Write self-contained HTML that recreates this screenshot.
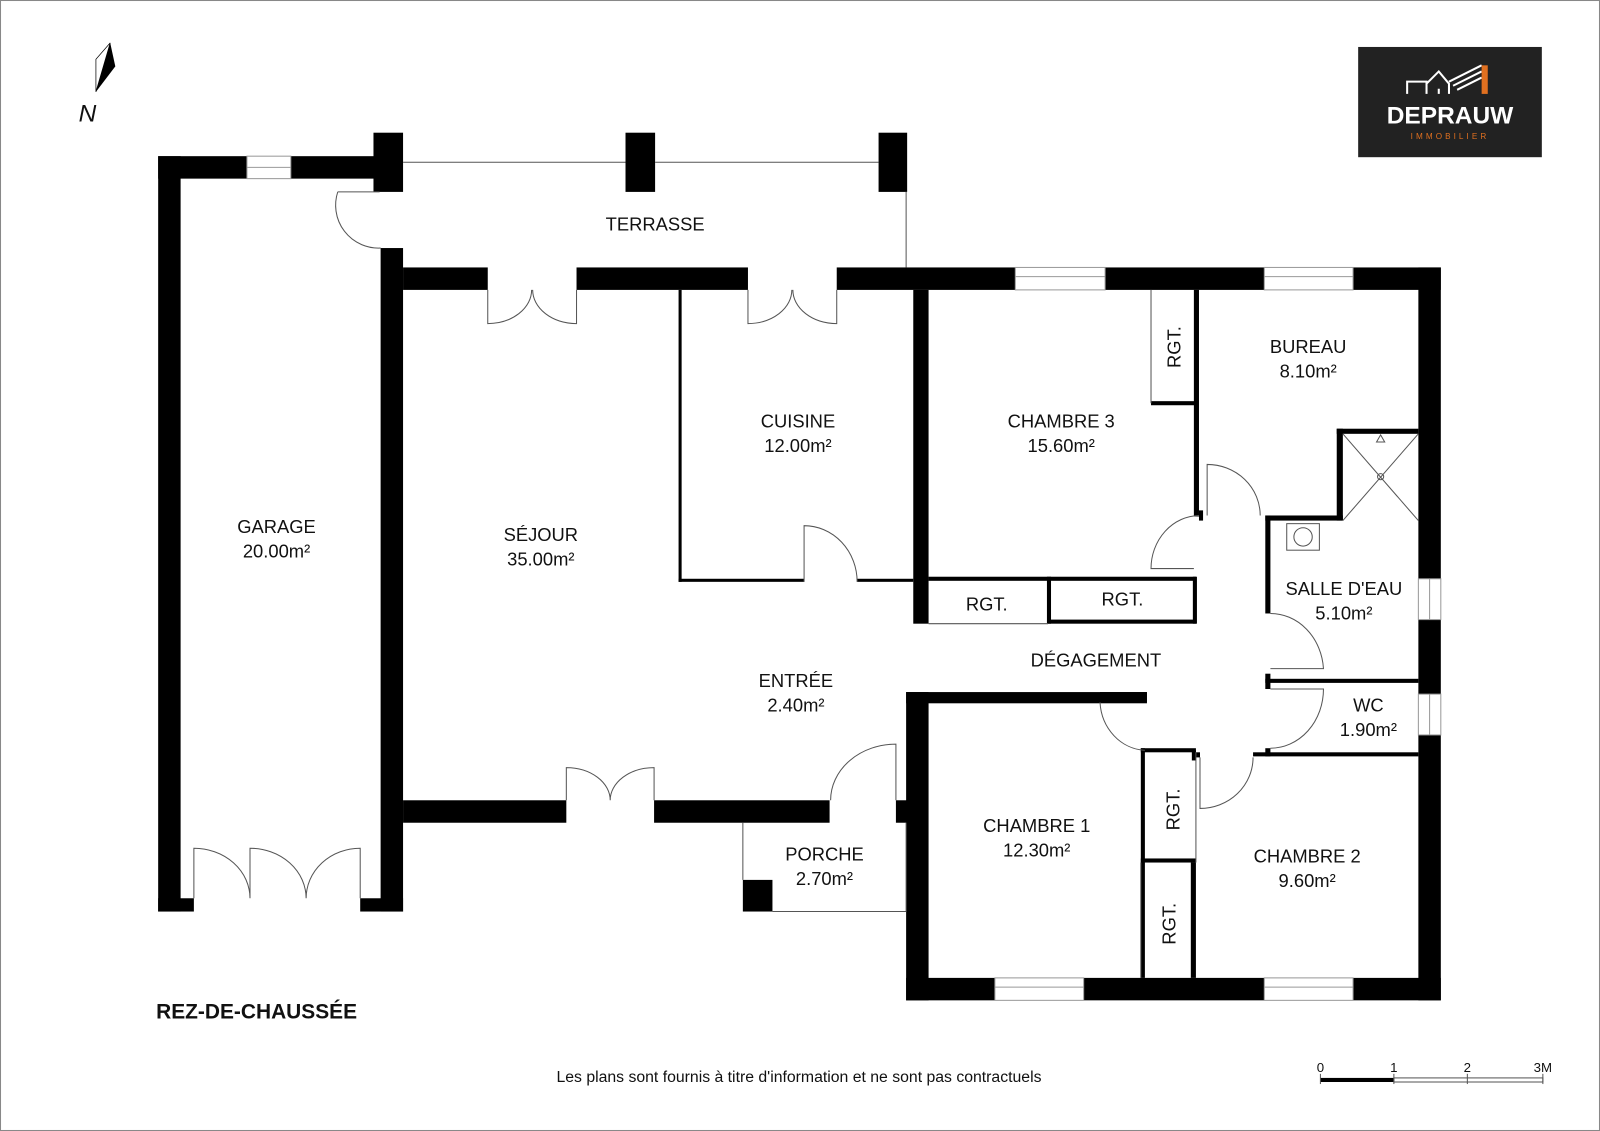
<!DOCTYPE html>
<html><head><meta charset="utf-8"><style>
html,body{margin:0;padding:0;background:#fff}
svg{display:block}
text{font-family:"Liberation Sans",sans-serif;fill:#111}
</style></head><body>
<svg width="1600" height="1131" viewBox="0 0 1568 1108" preserveAspectRatio="none" xmlns="http://www.w3.org/2000/svg">
<rect x="0.5" y="0.5" width="1567" height="1107" fill="#fff" stroke="#888" stroke-width="1"/>
<!-- north arrow -->
<polygon points="108,42 113,65 94,90" fill="#000"/>
<polygon points="108,42 94,58 94,90" fill="#fff" stroke="#000" stroke-width="0.7"/>
<text x="77" y="119" font-size="24" font-style="italic" transform="scale(1,1)">N</text>
<!-- logo -->
<rect x="1331" y="46" width="180" height="108" fill="#222"/>
<g stroke="#fff" stroke-width="2" fill="none"><path d="M1379,92 V80 H1398 V92 M1398,82 L1410,70 L1420,82 V92 M1410,92 V87"/><path d="M1420,80 L1452,64 M1424,84 L1452,70 M1428,88 L1452,76"/></g>
<rect x="1452" y="64" width="6" height="28" fill="#e07020"/>
<text x="1421" y="121" font-size="24" font-weight="bold" text-anchor="middle" style="fill:#fff">DEPRAUW</text>
<text x="1421" y="136" font-size="8" text-anchor="middle" letter-spacing="3" style="fill:#e07020">IMMOBILIER</text>
<g fill="#000">
<rect x="155" y="153" width="22" height="740"/>
<rect x="155" y="153" width="87" height="22"/>
<rect x="285" y="153" width="87" height="22"/>
<rect x="366" y="130" width="29" height="58"/>
<rect x="373" y="243" width="22" height="650"/>
<rect x="155" y="880" width="35" height="13"/>
<rect x="353" y="880" width="42" height="13"/>
<rect x="613" y="130" width="29" height="58"/>
<rect x="861" y="130" width="28" height="58"/>
<rect x="395" y="262" width="83" height="22"/>
<rect x="565" y="262" width="168" height="22"/>
<rect x="820" y="262" width="175" height="22"/>
<rect x="1083" y="262" width="156" height="22"/>
<rect x="1326" y="262" width="86" height="22"/>
<rect x="1390" y="262" width="22" height="305"/>
<rect x="1390" y="607" width="22" height="73"/>
<rect x="1390" y="720" width="22" height="260"/>
<rect x="888" y="958" width="87" height="22"/>
<rect x="1062" y="958" width="177" height="22"/>
<rect x="1326" y="958" width="86" height="22"/>
<rect x="395" y="784" width="160" height="22"/>
<rect x="641" y="784" width="172" height="22"/>
<rect x="878" y="784" width="17" height="22"/>
<rect x="728" y="862" width="29" height="31"/>
<rect x="665" y="284" width="3" height="286"/>
<rect x="665" y="567" width="123" height="3"/>
<rect x="840" y="567" width="55" height="3"/>
<rect x="895" y="284" width="15" height="327"/>
<rect x="910" y="565" width="262" height="4"/>
<rect x="1026" y="565" width="4" height="46"/>
<rect x="1027" y="607" width="145" height="4"/>
<rect x="1169" y="565" width="4" height="46"/>
<rect x="1170" y="284" width="5" height="222"/>
<rect x="1128" y="393" width="45" height="4"/>
<rect x="1175" y="500" width="4" height="10"/>
<rect x="1310" y="420" width="80" height="5"/>
<rect x="1310" y="420" width="6" height="90"/>
<rect x="1240" y="505" width="76" height="5"/>
<rect x="1240" y="505" width="5" height="96"/>
<rect x="1240" y="660" width="5" height="15"/>
<rect x="1240" y="665" width="150" height="4"/>
<rect x="1240" y="733" width="5" height="8"/>
<rect x="1228" y="737" width="162" height="4"/>
<rect x="888" y="678" width="22" height="302"/>
<rect x="888" y="678" width="236" height="11"/>
<rect x="1078" y="678" width="46" height="10"/>
<rect x="1118" y="733" width="4" height="225"/>
<rect x="1118" y="733" width="54" height="4"/>
<rect x="1168" y="735" width="4" height="10"/>
<rect x="1118" y="841" width="54" height="4"/>
<rect x="1167" y="845" width="5" height="113"/>
<rect x="1172" y="737" width="4" height="5"/>
</g>
<g fill="#fff" stroke="#999" stroke-width="1">
<rect x="242" y="153" width="43" height="22"/><line x1="242" y1="164" x2="285" y2="164"/>
<rect x="995" y="262" width="88" height="22"/><line x1="995" y1="271" x2="1083" y2="271"/>
<rect x="1239" y="262" width="87" height="22"/><line x1="1239" y1="271" x2="1326" y2="271"/>
<rect x="975" y="958" width="87" height="22"/><line x1="975" y1="967" x2="1062" y2="967"/>
<rect x="1239" y="958" width="87" height="22"/><line x1="1239" y1="967" x2="1326" y2="967"/>
<rect x="1390" y="567" width="22" height="40"/><line x1="1401" y1="567" x2="1401" y2="607"/>
<rect x="1390" y="680" width="22" height="40"/><line x1="1401" y1="680" x2="1401" y2="720"/>
</g>
<g fill="none" stroke="#555" stroke-width="1">
<line x1="395" y1="159" x2="613" y2="159"/><line x1="642" y1="159" x2="861" y2="159"/>
<line x1="888" y1="188" x2="888" y2="262"/>
<line x1="757" y1="893" x2="888" y2="893"/><line x1="728" y1="806" x2="728" y2="862"/>
<line x1="888" y1="806" x2="888" y2="893"/>
<line x1="1128" y1="284" x2="1128" y2="395"/>
<line x1="910" y1="611" x2="1027" y2="611"/>
<line x1="1118" y1="845" x2="1118" y2="958"/>
<line x1="1172" y1="737" x2="1172" y2="845"/>
<line x1="1316" y1="425" x2="1390" y2="510"/><line x1="1390" y1="425" x2="1316" y2="510"/>
<circle cx="1353" cy="467" r="3"/><path d="M1349,433 L1353,426 L1357,433 Z"/>
<rect x="1261" y="513" width="32" height="26"/><circle cx="1277" cy="526" r="9"/>
<path d="M331,188 H372 M331,188 A42,42 0 0 0 373,243"/>
<path d="M478,284 V317 A43,33 0 0 0 521,284 M565,284 V317 A43,33 0 0 1 522,284"/>
<path d="M733,284 V317 A43,33 0 0 0 776,284 M820,284 V317 A43,33 0 0 1 777,284"/>
<path d="M555,784 V752 A43,32 0 0 1 598,784 M641,784 V752 A43,32 0 0 0 598,784"/>
<path d="M190,880 V831 A55,49 0 0 1 245,880 M245,880 V831 A55,49 0 0 1 300,880 M353,880 V831 A53,49 0 0 0 300,880"/>
<path d="M788,570 V515 A52,55 0 0 1 840,570"/>
<path d="M878,784 V729 A64,55 0 0 0 814,784"/>
<path d="M1183,505 V455 A52,50 0 0 1 1235,505"/>
<path d="M1175,505 A48,52 0 0 0 1128,557 H1170"/>
<path d="M1245,601 A52,58 0 0 1 1297,655 H1245"/>
<path d="M1245,675 H1297 A52,58 0 0 1 1245,733"/>
<path d="M1078,688 A46,50 0 0 0 1122,735"/>
<path d="M1176,742 V792 A52,50 0 0 0 1228,742"/>
</g>
<g font-size="18" text-anchor="middle">
<text x="642" y="226">TERRASSE</text>
<text x="271" y="522">GARAGE</text><text x="271" y="546">20.00m²</text>
<text x="530" y="530">SÉJOUR</text><text x="530" y="554">35.00m²</text>
<text x="782" y="419">CUISINE</text><text x="782" y="443">12.00m²</text>
<text x="1040" y="419">CHAMBRE 3</text><text x="1040" y="443">15.60m²</text>
<text x="1282" y="346">BUREAU</text><text x="1282" y="370">8.10m²</text>
<text x="967" y="598">RGT.</text>
<text x="1100" y="593">RGT.</text>
<text x="1317" y="583">SALLE D'EAU</text><text x="1317" y="607">5.10m²</text>
<text x="1074" y="653">DÉGAGEMENT</text>
<text x="780" y="673">ENTRÉE</text><text x="780" y="697">2.40m²</text>
<text x="1341" y="697">WC</text><text x="1341" y="721">1.90m²</text>
<text x="1016" y="815">CHAMBRE 1</text><text x="1016" y="839">12.30m²</text>
<text x="808" y="843">PORCHE</text><text x="808" y="867">2.70m²</text>
<text x="1281" y="845">CHAMBRE 2</text><text x="1281" y="869">9.60m²</text>
<text transform="translate(1157,340) rotate(-90)">RGT.</text>
<text transform="translate(1156,793) rotate(-90)">RGT.</text>
<text transform="translate(1152,905) rotate(-90)">RGT.</text>
</g>
<text x="153" y="998" font-size="20.5" font-weight="bold">REZ-DE-CHAUSSÉE</text>
<text x="783" y="1060" font-size="15.5" text-anchor="middle">Les plans sont fournis à titre d'information et ne sont pas contractuels</text>
<g font-size="13" text-anchor="middle">
<text x="1294" y="1050">0</text><text x="1366" y="1050">1</text><text x="1438" y="1050">2</text><text x="1512" y="1050">3M</text>
</g>
<rect x="1294" y="1056" width="72" height="4" fill="#000"/>
<g stroke="#555" fill="none" stroke-width="1"><rect x="1366" y="1056" width="146" height="4"/><line x1="1294" y1="1052" x2="1294" y2="1062"/><line x1="1366" y1="1052" x2="1366" y2="1062"/><line x1="1438" y1="1052" x2="1438" y2="1062"/><line x1="1512" y1="1052" x2="1512" y2="1062"/></g>
</svg>
</body></html>
